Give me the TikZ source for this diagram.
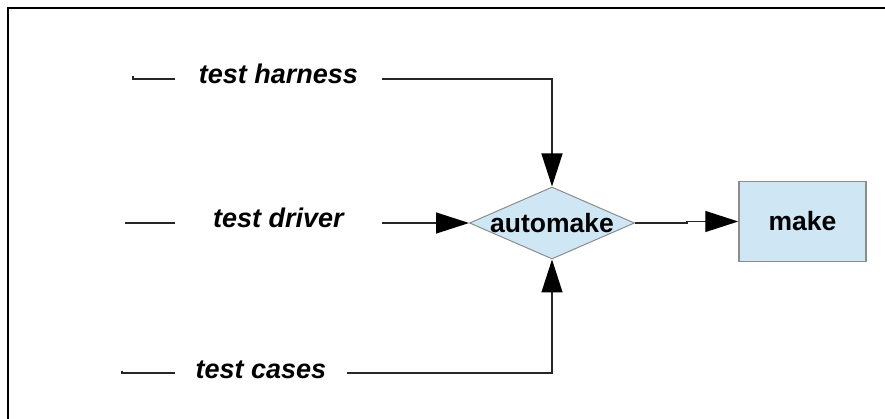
\documentclass[tikz,border=0pt]{standalone}
\usepackage{fontspec}
\setmainfont{Liberation Sans}
\usetikzlibrary{shapes.geometric,arrows.meta}
\definecolor{boxblue}{RGB}{207,231,245}
\definecolor{edgegray}{RGB}{140,140,140}
\begin{document}
\begin{tikzpicture}[x=1pt,y=-1pt,
  lbl/.style={inner xsep=0pt, inner ysep=0pt, text height=10pt, text depth=0pt,
    font=\fontsize{27}{31}\selectfont\bfseries\itshape},
  conn/.style={line width=1.3pt, draw=black!85},
  arr/.style={conn, -{Triangle[length=33pt,width=21pt,fill=black,color=black]}},
  boxfont/.style={font=\fontsize{26.5}{30}\selectfont\bfseries}
]
\useasboundingbox (0,0) rectangle (885,419);
\draw[line width=2pt] (8,419) -- (8,8) -- (885,8);

\node[diamond, draw=edgegray, fill=boxblue, line width=1pt, inner sep=0pt,
      minimum width=165pt, minimum height=72pt] (auto) at (552,223) {};
\node[boxfont] at (auto) {automake};
\node[rectangle, draw=edgegray, fill=boxblue, line width=1.5pt, inner sep=0pt,
      minimum width=127pt, minimum height=80pt, boxfont] (make) at (802.5,221.5) {make};

\node[lbl, minimum width=207pt] (harness) at (278.5,79) {test harness};
\node[lbl, minimum width=207pt] (driver) at (278.5,223) {test driver};
\node[lbl, minimum width=172pt] (cases) at (261,373) {test cases};

\coordinate (hs) at (133,76.5);
\coordinate (ds) at (125,223);
\coordinate (cs) at (122,370.5);
\coordinate (jog) at (687,223);

\draw[conn] (hs) |- (harness.west);
\draw[arr] (harness.east) -| (auto.north);
\draw[conn] (ds) -- (driver.west);
\draw[arr] (driver.east) -- (auto.west);
\draw[conn] (cs) |- (cases.west);
\draw[arr] (cases.east) -| (auto.south);
\draw[arr] (auto.east) -- (jog) |- (make.west);
\end{tikzpicture}
\end{document}
